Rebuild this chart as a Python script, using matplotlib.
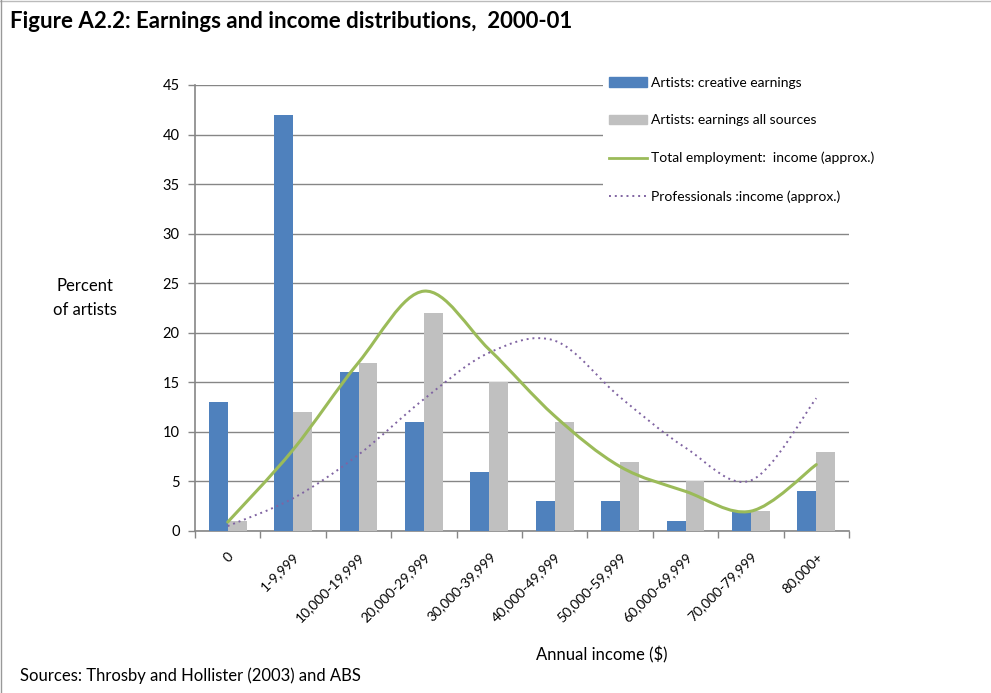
import matplotlib
matplotlib.use("Agg")
import matplotlib.pyplot as plt
import numpy as np
from matplotlib.path import Path
from matplotlib.patches import PathPatch
from matplotlib.lines import Line2D
from matplotlib.patches import Patch

plt.rcParams['font.family'] = ['Lato', 'DejaVu Sans']

categories = ["0", "1-9,999", "10,000-19,999", "20,000-29,999", "30,000-39,999",
              "40,000-49,999", "50,000-59,999", "60,000-69,999", "70,000-79,999", "80,000+"]
creative = [13, 42, 16, 11, 6, 3, 3, 1, 2, 4]
all_sources = [1, 12, 17, 22, 15, 11, 7, 5, 2, 8]
total_employment = [0.9, 8.2, 17.0, 24.2, 18.3, 11.6, 6.5, 4.0, 2.0, 6.7]
professionals = [0.5, 3.3, 7.7, 13.3, 18.0, 19.2, 13.5, 8.4, 5.1, 13.4]

BLUE = "#4F81BD"
GRAY = "#C0C0C0"
GREEN = "#9BBB59"
PURPLE = "#8064A2"
AXGRAY = "#868686"

fig = plt.figure(figsize=(9.91, 6.93), dpi=100)
ax = fig.add_axes([195/991, 1-531/693, (849-195)/991, (531-85)/693])

x = np.arange(len(categories))
w = 0.29
ax.bar(x - w/2, creative, width=w, color=BLUE, zorder=3)
ax.bar(x + w/2, all_sources, width=w, color=GRAY, zorder=3)


def smooth_path(xs, ys):
    pts = np.column_stack([xs, ys]).astype(float)
    n = len(pts)
    verts = [pts[0]]
    codes = [Path.MOVETO]
    for i in range(n - 1):
        p0 = pts[i - 1] if i > 0 else pts[i]
        p1 = pts[i]
        p2 = pts[i + 1]
        p3 = pts[i + 2] if i + 2 < n else pts[i + 1]
        c1 = p1 + (p2 - p0) / 6.0
        c2 = p2 - (p3 - p1) / 6.0
        verts += [c1, c2, p2]
        codes += [Path.CURVE4] * 3
    return Path(verts, codes)


ax.add_patch(PathPatch(smooth_path(x, total_employment), facecolor='none',
                       edgecolor=GREEN, lw=2.2, zorder=4, capstyle='round'))
ax.add_patch(PathPatch(smooth_path(x, professionals), facecolor='none',
                       edgecolor=PURPLE, lw=1.4, ls=(0, (1, 2)), zorder=4))

ax.set_xlim(-0.5, 9.5)
ax.set_ylim(0, 45)
ax.set_yticks(np.arange(0, 46, 5))
ax.set_xticks(x)
ax.set_xticklabels(categories, rotation=45, ha='right', va='top',
                   rotation_mode='anchor', fontsize=10)
ax.set_xticks(np.arange(-0.5, 10, 1), minor=True)
ax.tick_params(axis='x', which='major', length=0, pad=14)
ax.tick_params(axis='x', which='minor', length=5, color=AXGRAY, width=1)
ax.tick_params(axis='y', length=5, color=AXGRAY, width=1, labelsize=10.5, pad=6)
ax.grid(axis='y', color=AXGRAY, lw=1, zorder=0)
ax.set_axisbelow(True)
for s in ['top', 'right']:
    ax.spines[s].set_visible(False)
for s in ['left', 'bottom']:
    ax.spines[s].set_color(AXGRAY)
    ax.spines[s].set_linewidth(1.2)

handles = [Patch(color=BLUE), Patch(color=GRAY),
           Line2D([], [], color=GREEN, lw=2),
           Line2D([], [], color=PURPLE, lw=1.4, ls=(0, (1, 2)))]
labels = ["Artists: creative earnings", "Artists: earnings all sources",
          "Total employment:  income (approx.)", "Professionals :income (approx.)"]
leg = fig.legend(handles, labels, loc='upper left',
                 bbox_to_anchor=(603/991, 1-71/693), frameon=True,
                 facecolor='white', edgecolor='none', framealpha=1,
                 fontsize=10, labelspacing=1.85, handlelength=2.75,
                 handletextpad=0.3, borderpad=0.4, borderaxespad=0, fancybox=False)
leg.set_zorder(10)

fig.text(10/991, 1-21/693, "Figure A2.2: Earnings and income distributions,  2000-01",
         fontsize=16, fontweight='bold', va='center', ha='left')
fig.text(85/991, 1-298/693, "Percent\nof artists", fontsize=12, ha='center',
         va='center', linespacing=1.55)
fig.text(602/991, 1-655/693, "Annual income ($)", fontsize=12, ha='center', va='center')
fig.text(20/991, 1-676/693, "Sources: Throsby and Hollister (2003) and ABS",
         fontsize=12, ha='left', va='center')

fig.add_artist(Line2D([0, 1], [1-1/693, 1-1/693], transform=fig.transFigure,
                      color='#BBBBBB', lw=1))
fig.add_artist(Line2D([1/991, 1/991], [0, 1], transform=fig.transFigure,
                      color='#999999', lw=1))

fig.savefig("out.png", dpi=100)
